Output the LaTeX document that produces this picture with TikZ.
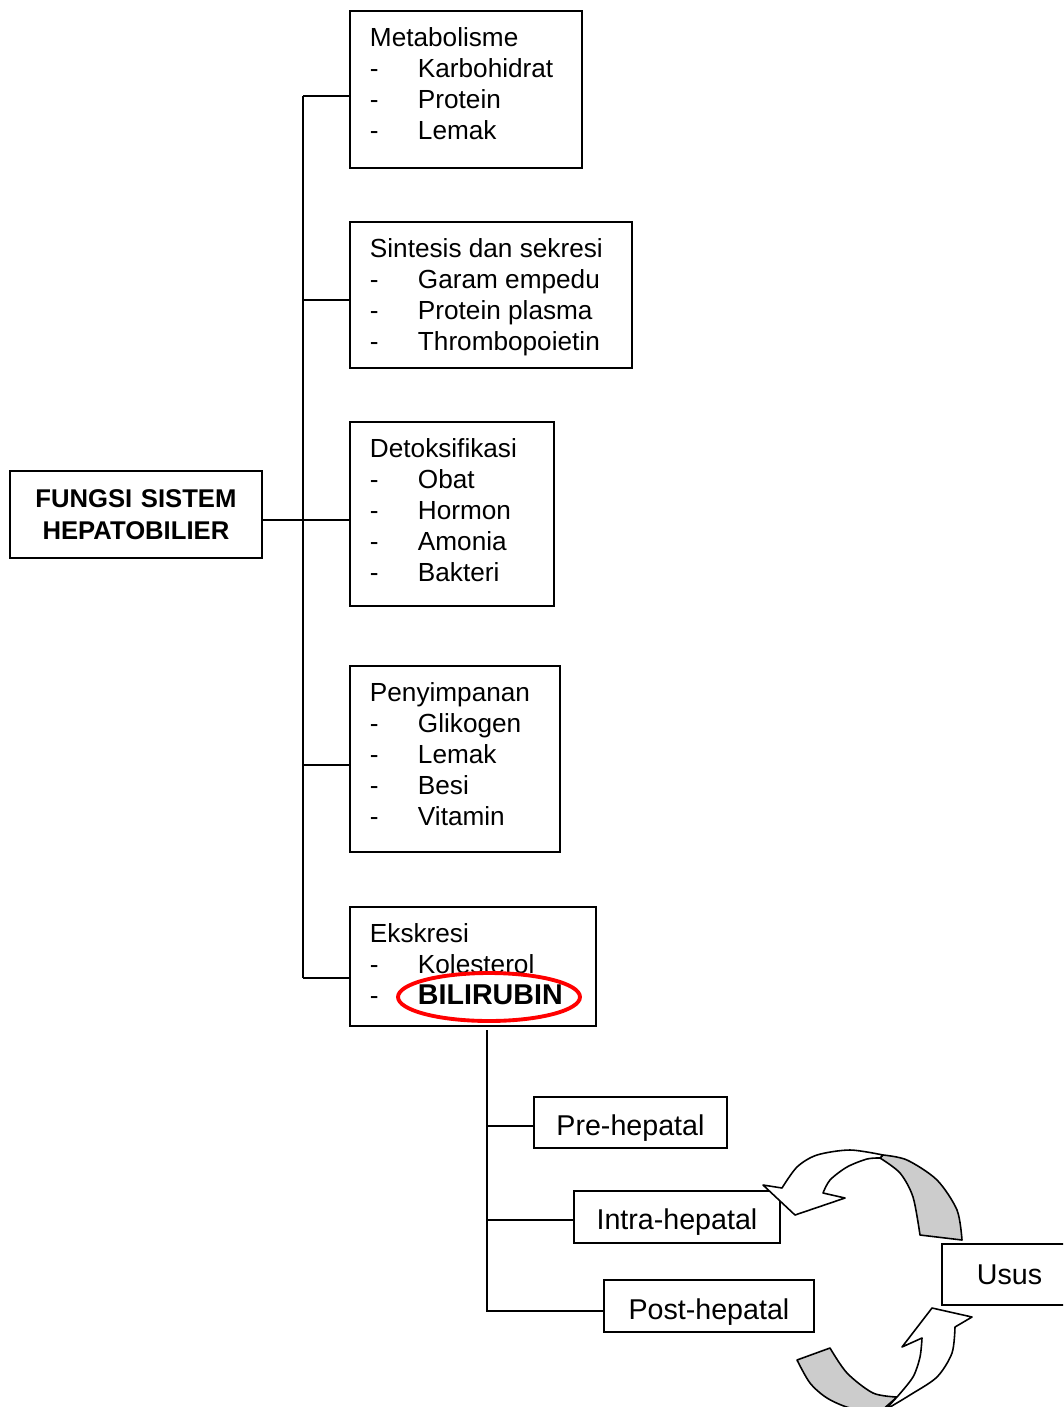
\documentclass[tikz,border=0pt]{standalone}
\usepackage{fontspec}
\setmainfont{Liberation Sans}
\usepackage{tikz}

\newcommand{\butir}[1]{\makebox[0.96cm][l]{-}#1}
\newcommand{\isi}[3]{\parbox[c][#1][t]{#2}{\raggedright\vspace*{0.34cm}#3}}

\tikzset{
  kotak/.style={draw, line width=1.1pt, anchor=north west, inner xsep=0.4cm, inner ysep=0pt, font=\fontsize{14.9}{17.6}\selectfont},
  kotakbawah/.style={draw, line width=1.1pt, anchor=north west, align=center, inner sep=0pt, font=\fontsize{16.3}{19}\selectfont},
  garis/.style={line width=1.1pt},
  pita/.style={line width=0.9pt, line join=round},
}

\begin{document}
\begin{tikzpicture}[x=0.02cm, y=-0.02cm]
\useasboundingbox (0,0) rectangle (1063,1407);
\clip (0,0) rectangle (1063,1407);

\node[kotak, align=center, text width=4.24cm, minimum height=1.74cm, font=\bfseries\fontsize{14.6}{18.1}\selectfont] (fungsi) at (9,470) {FUNGSI SISTEM\\HEPATOBILIER};

\node[kotak] (metab) at (349,10)
  {\isi{3.14cm}{3.84cm}{Metabolisme\\ \butir{Karbohidrat}\\ \butir{Protein}\\ \butir{Lemak}}};
\node[kotak] (sintesis) at (349,221)
  {\isi{2.92cm}{4.84cm}{Sintesis dan sekresi\\ \butir{Garam empedu}\\ \butir{Protein plasma}\\ \butir{Thrombopoietin}}};
\node[kotak] (detoks) at (349,421)
  {\isi{3.68cm}{3.28cm}{Detoksifikasi\\ \butir{Obat}\\ \butir{Hormon}\\ \butir{Amonia}\\ \butir{Bakteri}}};
\node[kotak] (simpan) at (349,665)
  {\isi{3.72cm}{3.4cm}{Penyimpanan\\ \butir{Glikogen}\\ \butir{Lemak}\\ \butir{Besi}\\ \butir{Vitamin}}};
\node[kotak] (ekskresi) at (349,906)
  {\isi{2.38cm}{4.12cm}{Ekskresi\\ \butir{Kolesterol}\\ \butir{{\bfseries\fontsize{16.3}{19}\selectfont BILIRUBIN}}}};

\draw[red, line width=2.2pt] (489,997) ellipse [x radius=1.82cm, y radius=0.48cm];

\node[kotakbawah, minimum width=3.86cm, minimum height=1.02cm, text height=14.6pt, text depth=0pt] (pre) at (533,1096) {Pre-hepatal};
\node[kotakbawah, minimum width=4.12cm, minimum height=1.04cm, text height=14.6pt, text depth=0pt] (intra) at (573,1190) {Intra-hepatal};
\node[kotakbawah, minimum width=4.2cm, minimum height=1.04cm, text height=15pt, text depth=0pt] (post) at (603,1279) {Post-hepatal};
\node[kotakbawah, minimum width=2.7cm, minimum height=1.22cm] (usus) at (941,1243) {Usus};

\coordinate (t1) at (303,96);
\coordinate (t2) at (303,300);
\coordinate (t3) at (303,520);
\coordinate (t4) at (303,765);
\coordinate (t5) at (303,978);
\draw[garis] (t1) -- (t5);
\draw[garis] (fungsi.east |- t3) -- (t3 -| detoks.west);
\draw[garis] (t1) -- (t1 -| metab.west);
\draw[garis] (t2) -- (t2 -| sintesis.west);
\draw[garis] (t4) -- (t4 -| simpan.west);
\draw[garis] (t5) -- (t5 -| ekskresi.west);

\coordinate (akar) at (487,1030);
\coordinate (b1) at (487,1126);
\coordinate (b2) at (487,1220);
\coordinate (b3) at (487,1311);
\draw[garis] (akar) -- (b3) -- (b3 -| post.west);
\draw[garis] (b1) -- (b1 -| pre.west);
\draw[garis] (b2) -- (b2 -| intra.west);

\filldraw[pita, fill=gray!40] (883,1155) -- plot[smooth] coordinates {(883,1155) (907,1160) (937,1180) (957,1210) (962,1240)}
  -- (920,1235) -- plot[smooth] coordinates {(920,1235) (913,1197) (900,1173) (880,1158)} -- cycle;
\filldraw[pita, fill=white] (763,1185) -- (795,1215) -- (845,1198) -- (823,1193)
  -- plot[smooth] coordinates {(823,1193) (830,1180) (847,1167) (867,1159) (880,1158)}
  -- (883,1155) -- plot[smooth] coordinates {(883,1155) (850,1150) (817,1155) (797,1167) (782,1188)} -- cycle;

\filldraw[pita, fill=gray!40] (797,1360) -- (830,1348)
  -- plot[smooth] coordinates {(830,1348) (847,1373) (873,1393) (897,1397)}
  -- (880,1412) -- plot[smooth] coordinates {(880,1412) (850,1408) (827,1398) (810,1383) (797,1360)} -- cycle;
\filldraw[pita, fill=white] (902,1347) -- (932,1308) -- (972,1317) -- (955,1327)
  -- plot[smooth] coordinates {(955,1327) (952,1353) (937,1377) (910,1395) (885,1410)}
  -- (897,1397) -- plot[smooth] coordinates {(897,1397) (913,1377) (920,1357) (922,1338)} -- cycle;
\end{tikzpicture}
\end{document}
